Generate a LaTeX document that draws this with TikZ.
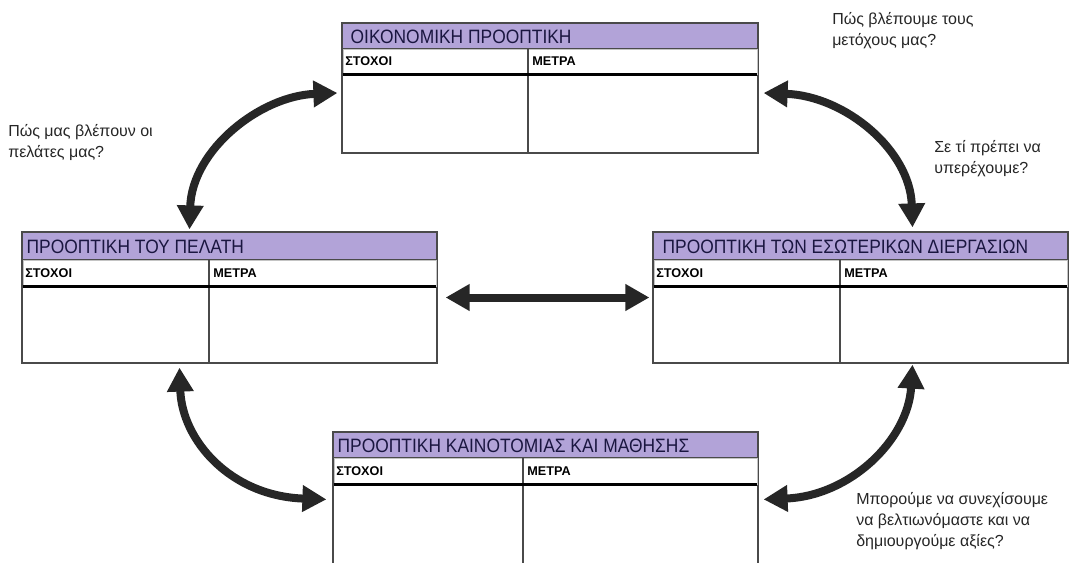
\documentclass[tikz,border=0pt]{standalone}
\usepackage{fontspec}
\setmainfont{Liberation Sans}
\newfontfamily\bandfont[FakeStretch=0.9]{Liberation Sans}
\usetikzlibrary{arrows.meta,fit,calc}

\definecolor{bandviolet}{HTML}{B2A3D8}
\definecolor{framegrey}{HTML}{4A4A4A}
\definecolor{rowgrey}{HTML}{C4C4C4}
\definecolor{inkdark}{HTML}{262626}
\definecolor{titleink}{HTML}{1A1640}

\tikzset{
  panelframe/.style={draw=framegrey, line width=0.9pt, fill=white, inner sep=0pt},
  band/.style={draw=framegrey, line width=0.9pt, fill=bandviolet, inner sep=0pt},
  headrow/.style={draw=rowgrey, line width=0.6pt, inner sep=0pt},
  headrule/.style={line width=1.8pt, black},
  colline/.style={draw=framegrey, line width=0.9pt},
  titletext/.style={font=\bandfont\fontsize{14.5}{16}\selectfont, text=titleink, inner sep=0pt, anchor=west},
  headtext/.style={font=\bfseries\fontsize{9.5}{10}\selectfont, text=black, inner sep=0pt, anchor=west},
  question/.style={font=\fontsize{12}{15.75}\selectfont, text=inkdark, align=left, inner sep=0pt, anchor=north west},
  link/.style={draw=inkdark, line width=6pt,
    {Triangle[length=18pt,width=19pt]}-{Triangle[length=18pt,width=19pt]}},
}

% #1 name, #2 left, #3 top, #4 right, #5 bottom,
% #6 bottom of title band, #7 bottom of header row, #8 column divider x
\newcommand\panel[8]{%
  \node[panelframe, fit={(#2,#3)(#4,#5)}] (#1) {};
  \node[band, fit={(#2,#3)(#4,#6)}] (#1-title) {};
  \node[headrow, fit={(#2+1,#6)(#4-1,#7)}] (#1-head) {};
  \draw[colline] (#8,#6) -- (#8,#5);
  \draw[headrule] (#1-head.south west) -- (#1-head.south east);
  \node[headtext] (#1-goals) at ($(#2+3,#6)!0.5!(#2+3,#7)$) {ΣΤΟΧΟΙ};
  \node[headtext] (#1-measures) at ($(#8+4,#6)!0.5!(#8+4,#7)$) {ΜΕΤΡΑ};
}

\begin{document}
\begin{tikzpicture}[x=0.75pt, y=-0.75pt]
  \clip (0,0) rectangle (1071,563);
  \fill[white] (0,0) rectangle (1071,563);

  % the four perspectives
  \panel{fin}{342}{23}{758}{153}{49}{74}{528}
  \node[titletext] (fin-name) at ($(fin-title.west)+(9,1)$) {ΟΙΚΟΝΟΜΙΚΗ ΠΡΟΟΠΤΙΚΗ};
  \panel{cust}{22}{232}{437}{363}{260}{286}{209}
  \node[titletext] (cust-name) at ($(cust-title.west)+(5,1)$) {ΠΡΟΟΠΤΙΚΗ ΤΟΥ ΠΕΛΑΤΗ};
  \panel{proc}{653}{232}{1068}{363}{260}{286}{840}
  \node[titletext] (proc-name) at ($(proc-title.west)+(10,1)$) {ΠΡΟΟΠΤΙΚΗ ΤΩΝ ΕΣΩΤΕΡΙΚΩΝ ΔΙΕΡΓΑΣΙΩΝ};
  \panel{innov}{333}{432}{758}{600}{458}{484}{523}
  \node[titletext] (innov-name) at ($(innov-title.west)+(5,1)$) {ΠΡΟΟΠΤΙΚΗ ΚΑΙΝΟΤΟΜΙΑΣ ΚΑΙ ΜΑΘΗΣΗΣ};

  % guiding questions
  \node[question] (q-cust) at (8,124) {Πώς μας βλέπουν οι\\πελάτες μας?};
  \node[question] (q-fin) at (832,12) {Πώς βλέπουμε τους\\μετόχους μας?};
  \node[question] (q-proc) at (934,140) {Σε τί πρέπει να\\υπερέχουμε?};
  \node[question] (q-innov) at (856,492) {Μπορούμε να συνεχίσουμε\\να βελτιωνόμαστε και να\\δημιουργούμε αξίες?};

  % links between the perspectives
  \draw[link] ($(fin.west)+(-4,5)$) .. controls (260,96) and (192,150) .. ($(cust.north)+(-40,-2)$);
  \draw[link] ($(fin.east)+(5,5)$) .. controls (845,96) and (910,150) .. ($(proc.north)+(52,-4)$);
  \draw[link] ($(cust.south)+(-50,4)$) .. controls (182,440) and (230,496) .. ($(innov.north west)+(-6,68)$);
  \draw[link] ($(proc.south)+(52,1)$) .. controls (908,440) and (850,496) .. ($(innov.north east)+(5,68)$);
  \draw[link] ($(cust.east)+(8,0)$) -- ($(proc.west)+(-3,0)$);
\end{tikzpicture}
\end{document}
